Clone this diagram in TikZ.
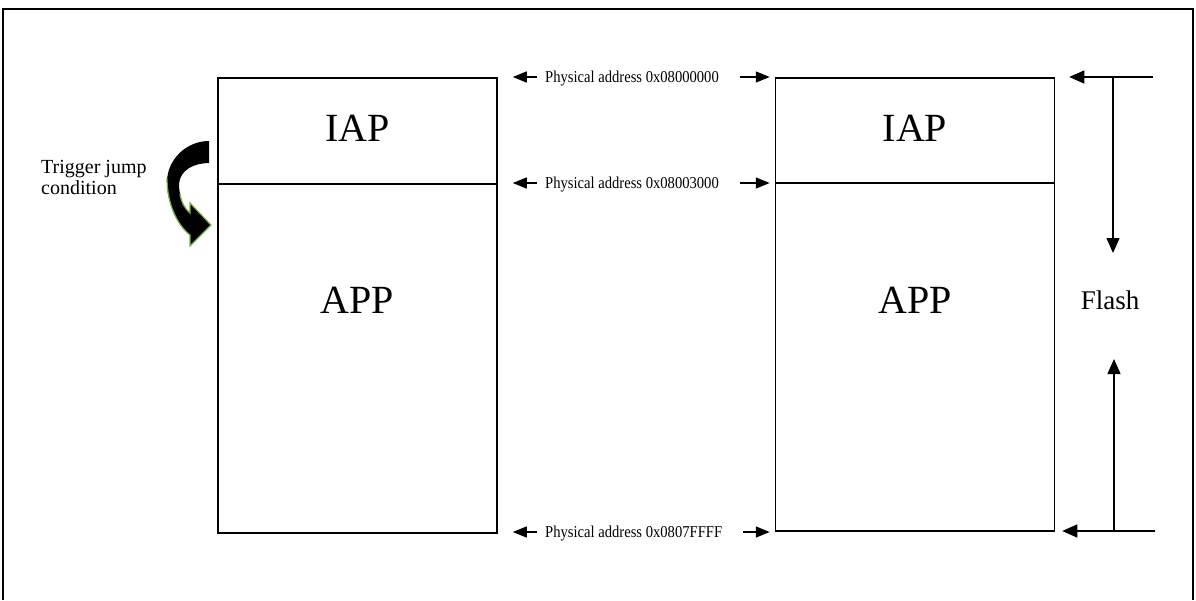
\documentclass[tikz,border=0pt]{standalone}
\usepackage{fontspec}
\setmainfont{Liberation Serif}
\newfontfamily\addrfont[FakeStretch=0.88]{Liberation Serif}
\usetikzlibrary{arrows.meta,calc}
\definecolor{jumpgreen}{RGB}{118,178,62}
\tikzset{
  membox/.style={draw, line width=1.5pt, inner sep=0pt, minimum width=279pt},
  big/.style={font=\fontsize{40}{42}\selectfont},
  addr/.style={font=\addrfont\fontsize{16.6}{18}\selectfont, inner sep=0pt, anchor=west},
  arr/.style={line width=1.4pt, -{Triangle[length=14pt,width=11pt]}},
  thinarr/.style={line width=1.3pt, -{Triangle[length=15pt,width=13pt]}},
  frame/.style={line width=1.4pt}
}
\begin{document}
\begin{tikzpicture}[x=1pt,y=-1pt]
\useasboundingbox (0,0) rectangle (1196,600);
% outer frame
\draw[frame] (3,600) -- (3,9) -- (1193,9) -- (1193,600);
% left memory
\node[membox, minimum height=106pt] (liap) at (357.5,131) {};
\node[membox, minimum height=349pt] (lapp) at (357.5,358.5) {};
\node[big] (liapt) at (357.5,128) {IAP};
\node[big] (lappt) at (357.5,300) {APP};
% right memory
\node[membox, minimum height=105pt] (riap) at (915,130.5) {};
\node[membox, minimum height=348pt] (rapp) at (915,357) {};
\node[big] (riapt) at (915,128) {IAP};
\node[big] (rappt) at (915,300) {APP};
% address labels
\node[addr] (a1) at (545,79) {Physical address 0x08000000};
\node[addr] (a2) at (545,185) {Physical address 0x08003000};
\node[addr] (a3) at (545,534) {Physical address 0x0807FFFF};
\draw[arr] ($(a1.west)+(-8,-2)$) -- ($(a1.west -| liap.east)+(15,-2)$);
\draw[arr] ($(a1.east)+(21,-2)$) -- ($(a1.east -| riap.west)+(-5,-2)$);
\draw[arr] ($(a2.west)+(-8,-2)$) -- ($(a2.west -| liap.east)+(15,-2)$);
\draw[arr] ($(a2.east)+(21,-2)$) -- ($(a2.east -| riap.west)+(-5,-2)$);
\draw[arr] ($(a3.west)+(-8,-2)$) -- ($(a3.west -| lapp.east)+(15,-2)$);
\draw[arr] ($(a3.east)+(21,-2)$) -- ($(a3.east -| rapp.west)+(-5,-2)$);
% flash range
\coordinate (ft) at (1153,77);
\coordinate (fb) at (1155,531);
\coordinate (fvt) at (1113,77);
\coordinate (fvb) at (1114,531);
\node[font=\fontsize{27}{29}\selectfont] (flash) at (1110,300) {Flash};
\draw[thinarr] (ft) -- ($(ft -| riap.east)+(14,0)$);
\draw[thinarr] (fb) -- ($(fb -| rapp.east)+(7,0)$);
\draw[thinarr] (fvt) -- (1113,253);
\draw[thinarr] (fvb) -- (1114,359);
% trigger
\node[font=\fontsize{20}{21}\selectfont, align=left, anchor=north west, inner sep=0pt] (trig) at (41,160) {Trigger jump\\condition};
\fill[black] (209,141) .. controls (186,141) and (167,160) .. (167,182)
  .. controls (167,202) and (176,224) .. (190,235)
  -- (190,246) -- (211,225) -- (190,203) -- (190,213)
  .. controls (183,207) and (179,195) .. (179,184)
  .. controls (180,170) and (194,163) .. (209,163) -- cycle;
\draw[jumpgreen, line width=1.2pt] (167,178)
  .. controls (167,202) and (176,224) .. (190,235)
  -- (190,246) -- (211,225) -- (190,203) -- (190,213)
  .. controls (185,209) and (181,202) .. (180,194);
\end{tikzpicture}
\end{document}
